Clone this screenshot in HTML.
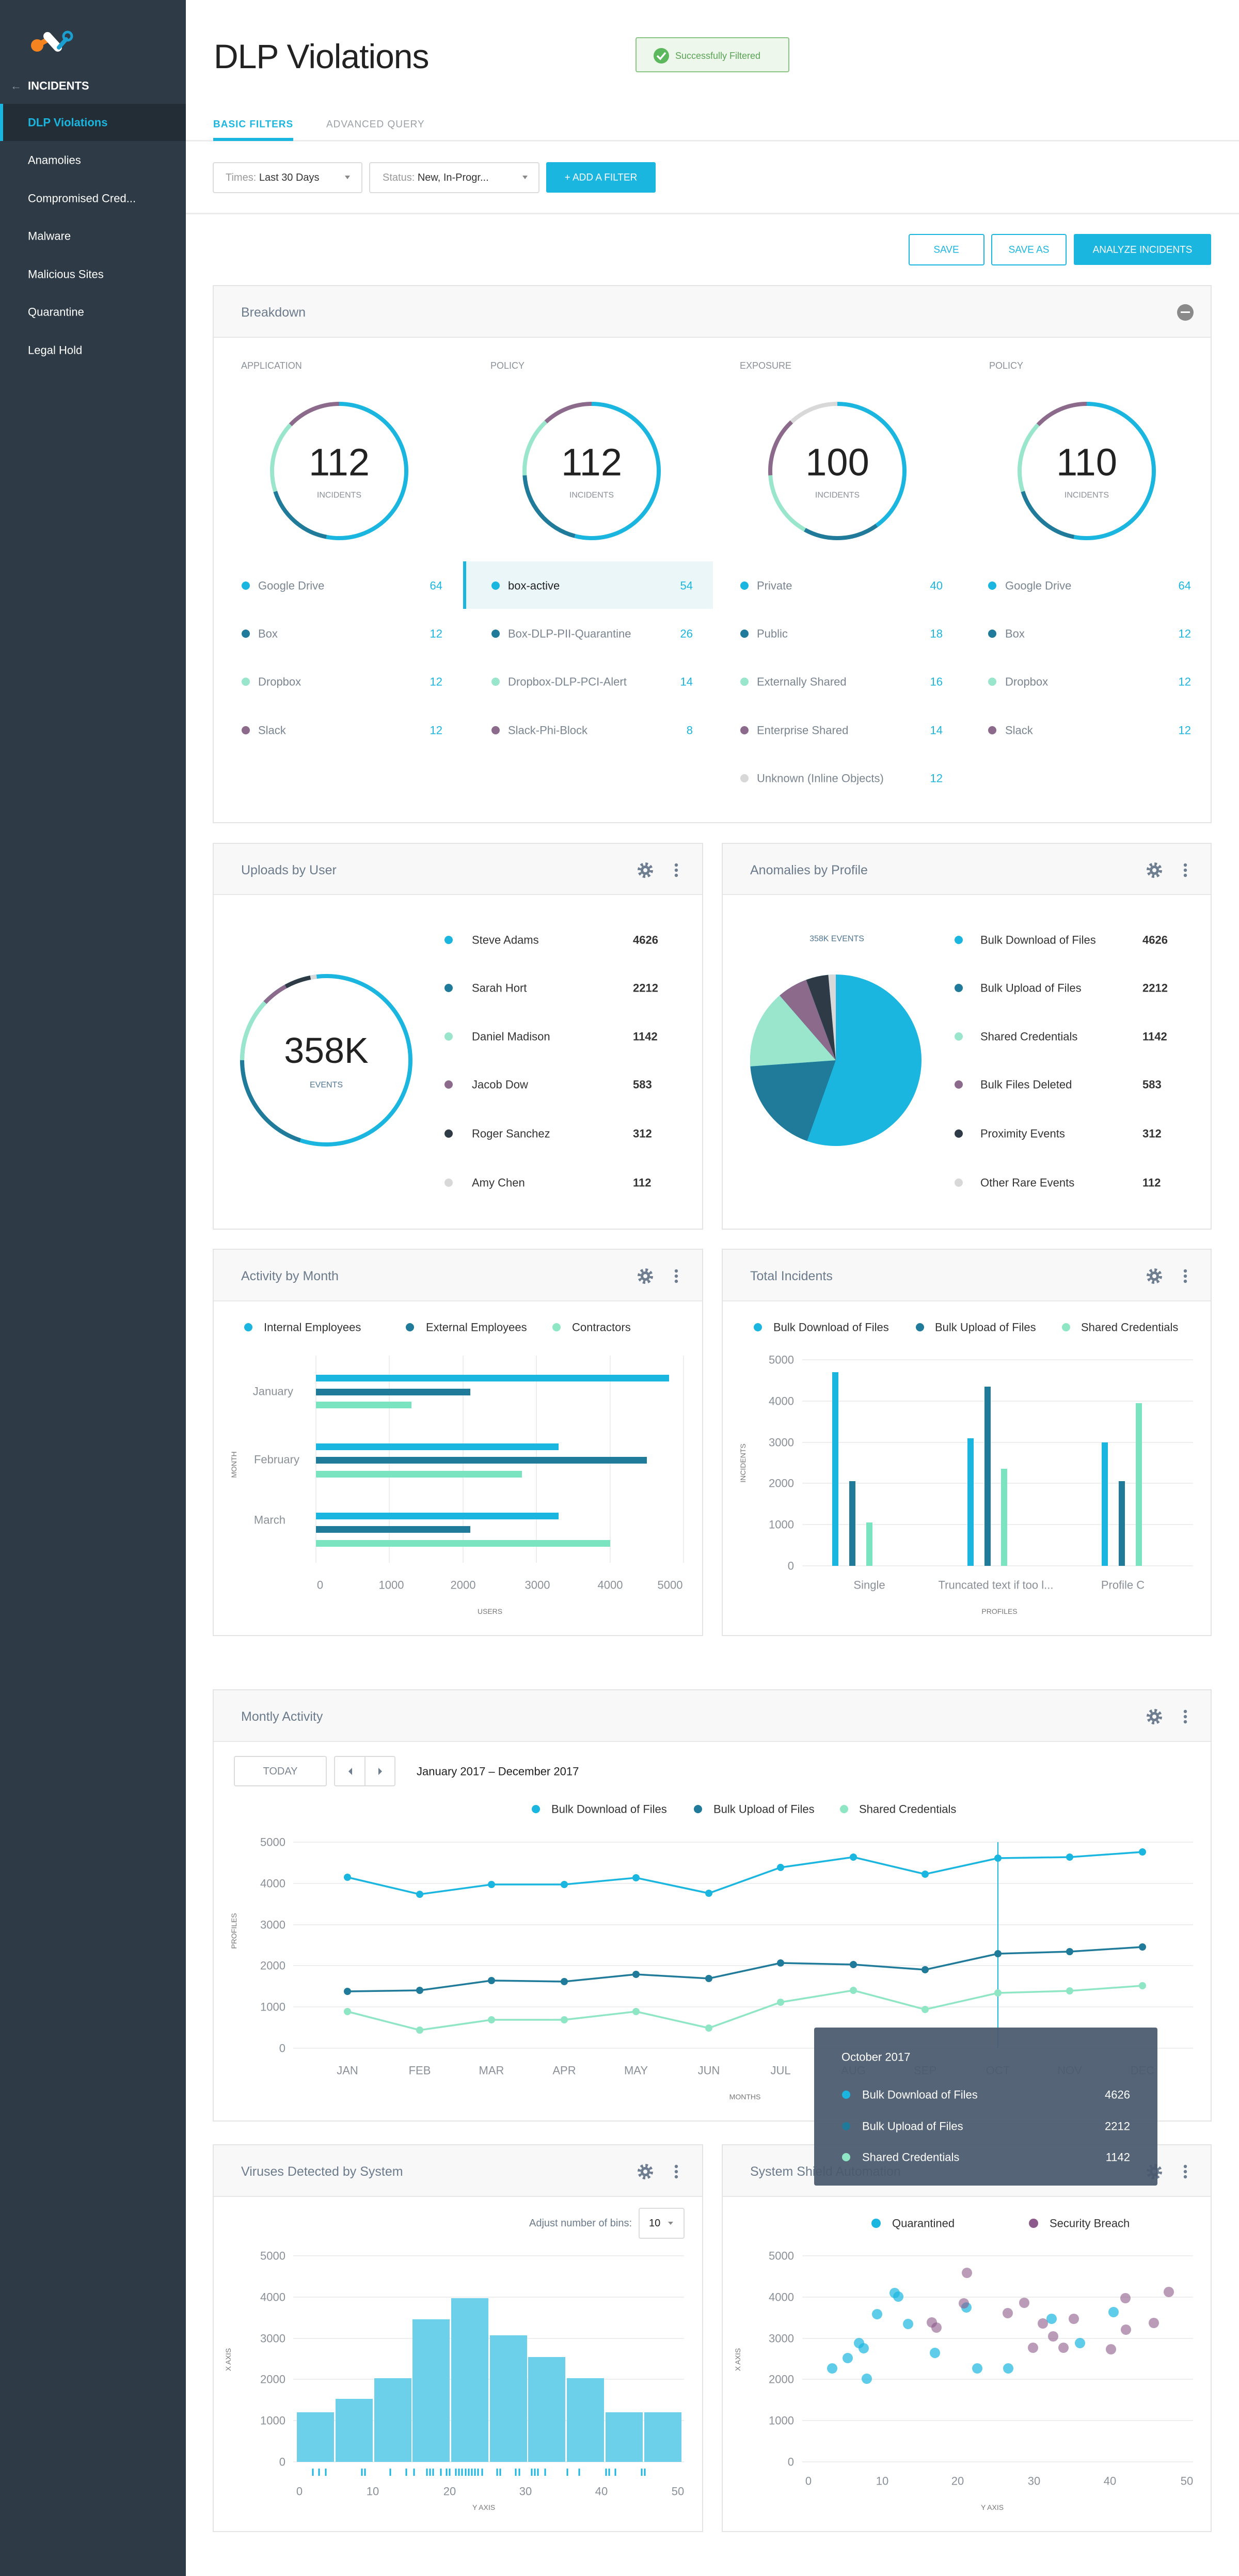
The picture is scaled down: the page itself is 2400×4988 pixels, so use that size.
<!DOCTYPE html>
<html><head><meta charset="utf-8"><style>
html,body{margin:0;padding:0;background:#fff;}
svg{display:block;font-family:"Liberation Sans",sans-serif;}
</style></head><body>
<svg width="2400" height="4988" viewBox="0 0 2400 4988" xmlns="http://www.w3.org/2000/svg">
<defs>
<g id="gear"><circle r="12" fill="none" stroke="#6e7e90" stroke-width="6" stroke-dasharray="4.7 4.7"/><circle r="9" fill="#6e7e90"/><circle r="4" fill="#f8f8f8"/></g>
<g id="kebab"><circle cy="-10" r="3.2" fill="#6e7e90"/><circle r="3.2" fill="#6e7e90"/><circle cy="10" r="3.2" fill="#6e7e90"/></g>
</defs>
<rect width="2400" height="4988" fill="#fff"/>
<!-- sidebar -->
<rect x="0" y="0" width="360" height="4988" fill="#2e3b46"/>
<g>
<circle cx="72" cy="88" r="12" fill="#f5831f"/><path d="M72 88 L90 78" stroke="#f5831f" stroke-width="10" stroke-linecap="round"/>
<path d="M92 70 L112 92" stroke="#fff" stroke-width="16" stroke-linecap="round"/>
<path d="M114 92 L128 76" stroke="#1a9fd0" stroke-width="8" stroke-linecap="round"/>
<circle cx="131" cy="70" r="8" fill="none" stroke="#1a9fd0" stroke-width="5"/>
</g>
<text x="20" y="166" fill="#8a96a0" font-size="22" dominant-baseline="central">←</text>
<text x="54" y="166" fill="#fff" font-size="22" font-weight="bold" dominant-baseline="central">INCIDENTS</text>
<rect x="0" y="201" width="360" height="72" fill="#232d36"/>
<rect x="0" y="201" width="6" height="72" fill="#1bb6e0"/>
<g font-size="22" dominant-baseline="central" fill="#fff">
<text x="54" y="237" fill="#1bb6e0" font-weight="bold">DLP Violations</text>
<text x="54" y="310">Anamolies</text>
<text x="54" y="384">Compromised Cred...</text>
<text x="54" y="457">Malware</text>
<text x="54" y="531">Malicious Sites</text>
<text x="54" y="604">Quarantine</text>
<text x="54" y="678">Legal Hold</text>
</g>
<!-- header -->
<text x="414" y="109" font-size="66" fill="#222" dominant-baseline="central" letter-spacing="-1">DLP Violations</text>
<rect x="1232" y="73" width="296" height="66" fill="#eef7ec" stroke="#8bc584" stroke-width="2" rx="3"/>
<circle cx="1281" cy="108" r="15" fill="#5cb85c"/><path d="M1273 108 l6 6 l10 -12" stroke="#fff" stroke-width="3.5" fill="none"/>
<text x="1308" y="108" font-size="18" fill="#5aa355" dominant-baseline="central">Successfully Filtered</text>
<text x="413" y="241" font-size="19" fill="#1bb6e0" font-weight="bold" dominant-baseline="central" letter-spacing="1">BASIC FILTERS</text>
<text x="632" y="241" font-size="19" fill="#9aa0a6" dominant-baseline="central" letter-spacing="1">ADVANCED QUERY</text>
<rect x="360" y="271" width="2040" height="3" fill="#ececec"/>
<rect x="413" y="267" width="155" height="6" fill="#1bb6e0"/>
<rect x="413" y="315" width="288" height="58" fill="#fff" stroke="#dcdcdc" stroke-width="2" rx="3"/>
<text x="437" y="344" font-size="20" dominant-baseline="central" fill="#999">Times: <tspan fill="#333">Last 30 Days</tspan></text>
<path d="M668 340 l10 0 l-5 7z" fill="#888"/>
<rect x="716" y="315" width="328" height="58" fill="#fff" stroke="#dcdcdc" stroke-width="2" rx="3"/>
<text x="741" y="344" font-size="20" dominant-baseline="central" fill="#999">Status: <tspan fill="#333">New, In-Progr...</tspan></text>
<path d="M1012 340 l10 0 l-5 7z" fill="#888"/>
<rect x="1058" y="314" width="212" height="59" fill="#1bb6e0" rx="3"/>
<text x="1164" y="344" font-size="19" fill="#fff" text-anchor="middle" dominant-baseline="central">+ ADD A FILTER</text>
<rect x="360" y="412" width="2040" height="3" fill="#ececec"/>
<rect x="1761" y="454" width="145" height="59" fill="#fff" stroke="#1bb6e0" stroke-width="2" rx="3"/>
<text x="1833" y="484" font-size="19" fill="#1bb6e0" text-anchor="middle" dominant-baseline="central">SAVE</text>
<rect x="1921" y="454" width="144" height="59" fill="#fff" stroke="#1bb6e0" stroke-width="2" rx="3"/>
<text x="1993" y="484" font-size="19" fill="#1bb6e0" text-anchor="middle" dominant-baseline="central">SAVE AS</text>
<rect x="2080" y="453" width="266" height="60" fill="#1bb6e0" rx="3"/>
<text x="2213" y="484" font-size="19" fill="#fff" text-anchor="middle" dominant-baseline="central">ANALYZE INCIDENTS</text>

<!-- Breakdown card -->
<rect x="413" y="553" width="1933" height="1040" fill="#fff" stroke="#e4e4e4" stroke-width="2"/>
<rect x="414" y="554" width="1931" height="99" fill="#f8f8f8"/>
<rect x="414" y="652" width="1931" height="2" fill="#e8e8e8"/>
<text x="467" y="605" font-size="25" fill="#6b7b8c" dominant-baseline="central">Breakdown</text>
<circle cx="2296" cy="605" r="16" fill="#8a8a8a"/><rect x="2287" y="603" width="18" height="3" fill="#fff"/>
<g font-size="18" fill="#8a9098" dominant-baseline="central">
<text x="467" y="708">APPLICATION</text><text x="950" y="708">POLICY</text><text x="1433" y="708">EXPOSURE</text><text x="1916" y="708">POLICY</text>
</g>
<!-- donuts r=130 C=816.8 -->
<g fill="none" stroke-width="8">
<g transform="rotate(-90 657 912)">
<circle cx="657" cy="912" r="130" stroke="#1bb6e0" stroke-dasharray="433 900"/>
<circle cx="657" cy="912" r="130" stroke="#207a99" stroke-dasharray="139 900" stroke-dashoffset="-433"/>
<circle cx="657" cy="912" r="130" stroke="#9ae6cd" stroke-dasharray="139 900" stroke-dashoffset="-572"/>
<circle cx="657" cy="912" r="130" stroke="#8c6a8b" stroke-dasharray="106 900" stroke-dashoffset="-711"/>
</g>
<g transform="rotate(-90 1146 912)">
<circle cx="1146" cy="912" r="130" stroke="#1bb6e0" stroke-dasharray="441 900"/>
<circle cx="1146" cy="912" r="130" stroke="#207a99" stroke-dasharray="163 900" stroke-dashoffset="-441"/>
<circle cx="1146" cy="912" r="130" stroke="#9ae6cd" stroke-dasharray="115 900" stroke-dashoffset="-604"/>
<circle cx="1146" cy="912" r="130" stroke="#8c6a8b" stroke-dasharray="98 900" stroke-dashoffset="-719"/>
</g>
<g transform="rotate(-90 1622 912)">
<circle cx="1622" cy="912" r="130" stroke="#1bb6e0" stroke-dasharray="327 900"/>
<circle cx="1622" cy="912" r="130" stroke="#207a99" stroke-dasharray="147 900" stroke-dashoffset="-327"/>
<circle cx="1622" cy="912" r="130" stroke="#9ae6cd" stroke-dasharray="130 900" stroke-dashoffset="-474"/>
<circle cx="1622" cy="912" r="130" stroke="#8c6a8b" stroke-dasharray="115 900" stroke-dashoffset="-604"/>
<circle cx="1622" cy="912" r="130" stroke="#d8d8d8" stroke-dasharray="98 900" stroke-dashoffset="-719"/>
</g>
<g transform="rotate(-90 2105 912)">
<circle cx="2105" cy="912" r="130" stroke="#1bb6e0" stroke-dasharray="433 900"/>
<circle cx="2105" cy="912" r="130" stroke="#207a99" stroke-dasharray="139 900" stroke-dashoffset="-433"/>
<circle cx="2105" cy="912" r="130" stroke="#9ae6cd" stroke-dasharray="139 900" stroke-dashoffset="-572"/>
<circle cx="2105" cy="912" r="130" stroke="#8c6a8b" stroke-dasharray="106 900" stroke-dashoffset="-711"/>
</g>
</g>
<g font-size="74" fill="#222" text-anchor="middle" dominant-baseline="central">
<text x="657" y="895">112</text><text x="1146" y="895">112</text><text x="1622" y="895">100</text><text x="2105" y="895">110</text>
</g>
<g font-size="16" fill="#8a9098" text-anchor="middle" dominant-baseline="central">
<text x="657" y="959">INCIDENTS</text><text x="1146" y="959">INCIDENTS</text><text x="1622" y="959">INCIDENTS</text><text x="2105" y="959">INCIDENTS</text>
</g>
<rect x="897" y="1087" width="484" height="92" fill="#ebf6f9"/>
<rect x="897" y="1087" width="6" height="92" fill="#1bb6e0"/>
<g font-size="22" fill="#7a8590" dominant-baseline="central">
<circle cx="476" cy="1134" r="8" fill="#1bb6e0"/><text x="500" y="1134">Google Drive</text>
<circle cx="476" cy="1227" r="8" fill="#207a99"/><text x="500" y="1227">Box</text>
<circle cx="476" cy="1320" r="8" fill="#9ae6cd"/><text x="500" y="1320">Dropbox</text>
<circle cx="476" cy="1414" r="8" fill="#8c6a8b"/><text x="500" y="1414">Slack</text>
<circle cx="960" cy="1134" r="8" fill="#1bb6e0"/><text x="984" y="1134" fill="#222">box-active</text>
<circle cx="960" cy="1227" r="8" fill="#207a99"/><text x="984" y="1227">Box-DLP-PII-Quarantine</text>
<circle cx="960" cy="1320" r="8" fill="#9ae6cd"/><text x="984" y="1320">Dropbox-DLP-PCI-Alert</text>
<circle cx="960" cy="1414" r="8" fill="#8c6a8b"/><text x="984" y="1414">Slack-Phi-Block</text>
<circle cx="1442" cy="1134" r="8" fill="#1bb6e0"/><text x="1466" y="1134">Private</text>
<circle cx="1442" cy="1227" r="8" fill="#207a99"/><text x="1466" y="1227">Public</text>
<circle cx="1442" cy="1320" r="8" fill="#9ae6cd"/><text x="1466" y="1320">Externally Shared</text>
<circle cx="1442" cy="1414" r="8" fill="#8c6a8b"/><text x="1466" y="1414">Enterprise Shared</text>
<circle cx="1442" cy="1507" r="8" fill="#d8d8d8"/><text x="1466" y="1507">Unknown (Inline Objects)</text>
<circle cx="1922" cy="1134" r="8" fill="#1bb6e0"/><text x="1947" y="1134">Google Drive</text>
<circle cx="1922" cy="1227" r="8" fill="#207a99"/><text x="1947" y="1227">Box</text>
<circle cx="1922" cy="1320" r="8" fill="#9ae6cd"/><text x="1947" y="1320">Dropbox</text>
<circle cx="1922" cy="1414" r="8" fill="#8c6a8b"/><text x="1947" y="1414">Slack</text>
</g>
<g font-size="22" fill="#1bb6e0" text-anchor="end" dominant-baseline="central">
<text x="857" y="1134">64</text><text x="857" y="1227">12</text><text x="857" y="1320">12</text><text x="857" y="1414">12</text>
<text x="1342" y="1134">54</text><text x="1342" y="1227">26</text><text x="1342" y="1320">14</text><text x="1342" y="1414">8</text>
<text x="1826" y="1134">40</text><text x="1826" y="1227">18</text><text x="1826" y="1320">16</text><text x="1826" y="1414">14</text><text x="1826" y="1507">12</text>
<text x="2307" y="1134">64</text><text x="2307" y="1227">12</text><text x="2307" y="1320">12</text><text x="2307" y="1414">12</text>
</g>

<!-- card frames -->
<g stroke="#e4e4e4" stroke-width="2" fill="#fff">
<rect x="413" y="1633" width="948" height="747"/>
<rect x="1399" y="1633" width="947" height="747"/>
<rect x="413" y="2419" width="948" height="748"/>
<rect x="1399" y="2419" width="947" height="748"/>
<rect x="413" y="3272" width="1933" height="835"/>
<rect x="413" y="4153" width="948" height="749"/>
<rect x="1399" y="4153" width="947" height="749"/>
</g>
<g fill="#f8f8f8">
<rect x="414" y="1634" width="946" height="98"/><rect x="1400" y="1634" width="945" height="98"/>
<rect x="414" y="2420" width="946" height="99"/><rect x="1400" y="2420" width="945" height="99"/>
<rect x="414" y="3273" width="1931" height="99"/>
<rect x="414" y="4154" width="946" height="99"/><rect x="1400" y="4154" width="945" height="99"/>
</g>
<g fill="#e8e8e8">
<rect x="414" y="1731" width="946" height="2"/><rect x="1400" y="1731" width="945" height="2"/>
<rect x="414" y="2518" width="946" height="2"/><rect x="1400" y="2518" width="945" height="2"/>
<rect x="414" y="3371" width="1931" height="2"/>
<rect x="414" y="4252" width="946" height="2"/><rect x="1400" y="4252" width="945" height="2"/>
</g>
<g font-size="25" fill="#6b7b8c" dominant-baseline="central">
<text x="467" y="1685">Uploads by User</text>
<text x="1453" y="1685">Anomalies by Profile</text>
<text x="467" y="2471">Activity by Month</text>
<text x="1453" y="2471">Total Incidents</text>
<text x="467" y="3324">Montly Activity</text>
<text x="467" y="4205">Viruses Detected by System</text>
<text x="1453" y="4205">System Shield Automation</text>
</g>
<use href="#gear" x="1250" y="1685"/><use href="#kebab" x="1310" y="1685"/>
<use href="#gear" x="2236" y="1685"/><use href="#kebab" x="2296" y="1685"/>
<use href="#gear" x="1250" y="2471"/><use href="#kebab" x="1310" y="2471"/>
<use href="#gear" x="2236" y="2471"/><use href="#kebab" x="2296" y="2471"/>
<use href="#gear" x="2236" y="3324"/><use href="#kebab" x="2296" y="3324"/>
<use href="#gear" x="1250" y="4205"/><use href="#kebab" x="1310" y="4205"/>
<use href="#gear" x="2236" y="4205"/><use href="#kebab" x="2296" y="4205"/>

<!-- Uploads donut r=163 C=1024 -->
<g fill="none" stroke-width="8" transform="rotate(-90 632 2053)">
<circle cx="632" cy="2053" r="163" stroke="#1bb6e0"/>
<circle cx="632" cy="2053" r="163" stroke="#207a99" stroke-dasharray="205 1100" stroke-dashoffset="-563"/>
<circle cx="632" cy="2053" r="163" stroke="#9ae6cd" stroke-dasharray="123 1100" stroke-dashoffset="-768"/>
<circle cx="632" cy="2053" r="163" stroke="#8c6a8b" stroke-dasharray="51 1100" stroke-dashoffset="-891"/>
<circle cx="632" cy="2053" r="163" stroke="#2e3a45" stroke-dasharray="51 1100" stroke-dashoffset="-942"/>
<circle cx="632" cy="2053" r="163" stroke="#d8d8d8" stroke-dasharray="12 1100" stroke-dashoffset="-993"/>
</g>
<text x="632" y="2034" font-size="70" fill="#222" text-anchor="middle" dominant-baseline="central">358K</text>
<text x="632" y="2101" font-size="16" fill="#4f7592" text-anchor="middle" dominant-baseline="central">EVENTS</text>
<g font-size="22" fill="#333" dominant-baseline="central">
<circle cx="869" cy="1820" r="8" fill="#1bb6e0"/><text x="914" y="1820">Steve Adams</text>
<circle cx="869" cy="1913" r="8" fill="#207a99"/><text x="914" y="1913">Sarah Hort</text>
<circle cx="869" cy="2007" r="8" fill="#9ae6cd"/><text x="914" y="2007">Daniel Madison</text>
<circle cx="869" cy="2100" r="8" fill="#8c6a8b"/><text x="914" y="2100">Jacob Dow</text>
<circle cx="869" cy="2195" r="8" fill="#2e3a45"/><text x="914" y="2195">Roger Sanchez</text>
<circle cx="869" cy="2290" r="8" fill="#d8d8d8"/><text x="914" y="2290">Amy Chen</text>
<g font-weight="bold"><text x="1226" y="1820">4626</text><text x="1226" y="1913">2212</text><text x="1226" y="2007">1142</text><text x="1226" y="2100">583</text><text x="1226" y="2195">312</text><text x="1226" y="2290">112</text></g>
</g>
<!-- Pie -->
<g fill="none" stroke-width="166" transform="rotate(-90 1619 2053)">
<circle cx="1619" cy="2053" r="83" stroke="#1bb6e0"/>
<circle cx="1619" cy="2053" r="83" stroke="#207a99" stroke-dasharray="96 600" stroke-dashoffset="-289"/>
<circle cx="1619" cy="2053" r="83" stroke="#9ae6cd" stroke-dasharray="77 600" stroke-dashoffset="-385"/>
<circle cx="1619" cy="2053" r="83" stroke="#8c6a8b" stroke-dasharray="30 600" stroke-dashoffset="-462"/>
<circle cx="1619" cy="2053" r="83" stroke="#2e3a45" stroke-dasharray="22 600" stroke-dashoffset="-492"/>
<circle cx="1619" cy="2053" r="83" stroke="#d8d8d8" stroke-dasharray="8 600" stroke-dashoffset="-514"/>
</g>
<text x="1621" y="1818" font-size="16" fill="#4f7592" text-anchor="middle" dominant-baseline="central">358K EVENTS</text>
<g font-size="22" fill="#333" dominant-baseline="central">
<circle cx="1857" cy="1820" r="8" fill="#1bb6e0"/><text x="1899" y="1820">Bulk Download of Files</text>
<circle cx="1857" cy="1913" r="8" fill="#207a99"/><text x="1899" y="1913">Bulk Upload of Files</text>
<circle cx="1857" cy="2007" r="8" fill="#9ae6cd"/><text x="1899" y="2007">Shared Credentials</text>
<circle cx="1857" cy="2100" r="8" fill="#8c6a8b"/><text x="1899" y="2100">Bulk Files Deleted</text>
<circle cx="1857" cy="2195" r="8" fill="#2e3a45"/><text x="1899" y="2195">Proximity Events</text>
<circle cx="1857" cy="2290" r="8" fill="#d8d8d8"/><text x="1899" y="2290">Other Rare Events</text>
<g font-weight="bold"><text x="2213" y="1820">4626</text><text x="2213" y="1913">2212</text><text x="2213" y="2007">1142</text><text x="2213" y="2100">583</text><text x="2213" y="2195">312</text><text x="2213" y="2290">112</text></g>
</g>

<!-- Activity by Month -->
<g font-size="22" fill="#333" dominant-baseline="central">
<circle cx="481" cy="2570" r="8" fill="#1bb6e0"/><text x="511" y="2570">Internal Employees</text>
<circle cx="794" cy="2570" r="8" fill="#207a99"/><text x="825" y="2570">External Employees</text>
<circle cx="1078" cy="2570" r="8" fill="#8fe6c4"/><text x="1108" y="2570">Contractors</text>
</g>
<g stroke="#eeeeee" stroke-width="2">
<line x1="612" y1="2625" x2="612" y2="3026"/><line x1="754" y1="2625" x2="754" y2="3026"/><line x1="897" y1="2625" x2="897" y2="3026"/>
<line x1="1039" y1="2625" x2="1039" y2="3026"/><line x1="1182" y1="2625" x2="1182" y2="3026"/><line x1="1324" y1="2625" x2="1324" y2="3026"/>
</g>
<g>
<rect x="612" y="2662" width="684" height="13" fill="#1bb6e0"/><rect x="612" y="2689" width="299" height="13" fill="#207a99"/><rect x="612" y="2714" width="185" height="13" fill="#7ae3bf"/>
<rect x="612" y="2795" width="470" height="13" fill="#1bb6e0"/><rect x="612" y="2821" width="641" height="13" fill="#207a99"/><rect x="612" y="2848" width="399" height="13" fill="#7ae3bf"/>
<rect x="612" y="2929" width="470" height="13" fill="#1bb6e0"/><rect x="612" y="2955" width="299" height="13" fill="#207a99"/><rect x="612" y="2982" width="570" height="13" fill="#7ae3bf"/>
</g>
<g font-size="22" fill="#8a9098" text-anchor="end" dominant-baseline="central">
<text x="568" y="2694">January</text><text x="580" y="2826">February</text><text x="553" y="2943">March</text>
</g>
<g font-size="22" fill="#8a9098" text-anchor="middle" dominant-baseline="central">
<text x="620" y="3069">0</text><text x="758" y="3069">1000</text><text x="897" y="3069">2000</text><text x="1041" y="3069">3000</text><text x="1182" y="3069">4000</text><text x="1298" y="3069">5000</text>
</g>
<text x="949" y="3120" font-size="14" fill="#777" text-anchor="middle" dominant-baseline="central">USERS</text>
<text transform="translate(453 2836) rotate(-90)" font-size="14" fill="#777" text-anchor="middle" dominant-baseline="central">MONTH</text>

<!-- Total Incidents -->
<g font-size="22" fill="#333" dominant-baseline="central">
<circle cx="1468" cy="2570" r="8" fill="#1bb6e0"/><text x="1498" y="2570">Bulk Download of Files</text>
<circle cx="1782" cy="2570" r="8" fill="#207a99"/><text x="1811" y="2570">Bulk Upload of Files</text>
<circle cx="2065" cy="2570" r="8" fill="#8fe6c4"/><text x="2094" y="2570">Shared Credentials</text>
</g>
<g stroke="#eeeeee" stroke-width="2">
<line x1="1554" y1="2633" x2="2311" y2="2633"/><line x1="1554" y1="2713" x2="2311" y2="2713"/><line x1="1554" y1="2793" x2="2311" y2="2793"/>
<line x1="1554" y1="2872" x2="2311" y2="2872"/><line x1="1554" y1="2952" x2="2311" y2="2952"/><line x1="1554" y1="3032" x2="2311" y2="3032"/>
</g>
<g font-size="22" fill="#8a9098" text-anchor="end" dominant-baseline="central">
<text x="1538" y="2633">5000</text><text x="1538" y="2713">4000</text><text x="1538" y="2793">3000</text><text x="1538" y="2872">2000</text><text x="1538" y="2952">1000</text><text x="1538" y="3032">0</text>
</g>
<g>
<rect x="1612" y="2657" width="12" height="375" fill="#1bb6e0"/><rect x="1645" y="2868" width="12" height="164" fill="#207a99"/><rect x="1678" y="2948" width="12" height="84" fill="#7ae3bf"/>
<rect x="1874" y="2785" width="12" height="247" fill="#1bb6e0"/><rect x="1907" y="2685" width="12" height="347" fill="#207a99"/><rect x="1939" y="2844" width="12" height="188" fill="#7ae3bf"/>
<rect x="2134" y="2793" width="12" height="239" fill="#1bb6e0"/><rect x="2167" y="2868" width="12" height="164" fill="#207a99"/><rect x="2200" y="2717" width="12" height="315" fill="#7ae3bf"/>
</g>
<g font-size="22" fill="#8a9098" text-anchor="middle" dominant-baseline="central">
<text x="1684" y="3069">Single</text><text x="1929" y="3069">Truncated text if too l...</text><text x="2175" y="3069">Profile C</text>
</g>
<text x="1936" y="3120" font-size="14" fill="#777" text-anchor="middle" dominant-baseline="central">PROFILES</text>
<text transform="translate(1439 2833) rotate(-90)" font-size="14" fill="#777" text-anchor="middle" dominant-baseline="central">INCIDENTS</text>

<!-- Monthly Activity -->
<rect x="454" y="3401" width="178" height="57" fill="#fff" stroke="#dcdcdc" stroke-width="2" rx="3"/>
<text x="543" y="3430" font-size="20" fill="#7a8590" text-anchor="middle" dominant-baseline="central">TODAY</text>
<rect x="648" y="3401" width="117" height="57" fill="#fff" stroke="#dcdcdc" stroke-width="2" rx="3"/>
<line x1="707" y1="3401" x2="707" y2="3458" stroke="#dcdcdc" stroke-width="2"/>
<path d="M682 3423 l0 14 l-7 -7z" fill="#6e7e90"/><path d="M733 3423 l0 14 l7 -7z" fill="#6e7e90"/>
<text x="807" y="3430" font-size="22" fill="#222" dominant-baseline="central">January 2017 – December 2017</text>
<g font-size="22" fill="#333" dominant-baseline="central">
<circle cx="1038" cy="3503" r="8" fill="#1bb6e0"/><text x="1068" y="3503">Bulk Download of Files</text>
<circle cx="1352" cy="3503" r="8" fill="#207a99"/><text x="1382" y="3503">Bulk Upload of Files</text>
<circle cx="1635" cy="3503" r="8" fill="#8fe6c4"/><text x="1664" y="3503">Shared Credentials</text>
</g>
<g stroke="#eeeeee" stroke-width="2">
<line x1="568" y1="3567" x2="2311" y2="3567"/><line x1="568" y1="3647" x2="2311" y2="3647"/><line x1="568" y1="3727" x2="2311" y2="3727"/>
<line x1="568" y1="3806" x2="2311" y2="3806"/><line x1="568" y1="3886" x2="2311" y2="3886"/><line x1="568" y1="3966" x2="2311" y2="3966"/>
</g>
<g font-size="22" fill="#8a9098" text-anchor="end" dominant-baseline="central">
<text x="553" y="3567">5000</text><text x="553" y="3647">4000</text><text x="553" y="3727">3000</text><text x="553" y="3806">2000</text><text x="553" y="3886">1000</text><text x="553" y="3966">0</text>
</g>
<g font-size="22" fill="#8a9098" text-anchor="middle" dominant-baseline="central">
<text x="673" y="4009">JAN</text><text x="813" y="4009">FEB</text><text x="952" y="4009">MAR</text><text x="1093" y="4009">APR</text><text x="1232" y="4009">MAY</text><text x="1373" y="4009">JUN</text><text x="1512" y="4009">JUL</text><text x="1653" y="4009">AUG</text><text x="1792" y="4009">SEP</text><text x="1933" y="4009">OCT</text><text x="2072" y="4009">NOV</text><text x="2213" y="4009">DEC</text>
</g>
<text x="1443" y="4060" font-size="14" fill="#777" text-anchor="middle" dominant-baseline="central">MONTHS</text>
<text transform="translate(453 3739) rotate(-90)" font-size="14" fill="#777" text-anchor="middle" dominant-baseline="central">PROFILES</text>
<line x1="1933" y1="3567" x2="1933" y2="3966" stroke="#1bb6e0" stroke-width="2"/>
<g fill="none" stroke-width="3.5">
<polyline stroke="#1bb6e0" points="673,3635 813,3668 952,3649 1093,3649 1232,3636 1373,3666 1512,3616 1653,3596 1792,3629 1933,3598 2072,3596 2213,3586"/>
<polyline stroke="#207a99" points="673,3856 813,3854 952,3835 1093,3837 1232,3823 1373,3831 1512,3801 1653,3804 1792,3814 1933,3783 2072,3779 2213,3770"/>
<polyline stroke="#8fe6c4" points="673,3895 813,3931 952,3911 1093,3911 1232,3895 1373,3927 1512,3877 1653,3854 1792,3891 1933,3859 2072,3855 2213,3845"/>
</g>
<g fill="#1bb6e0"><circle cx="673" cy="3635" r="7"/><circle cx="813" cy="3668" r="7"/><circle cx="952" cy="3649" r="7"/><circle cx="1093" cy="3649" r="7"/><circle cx="1232" cy="3636" r="7"/><circle cx="1373" cy="3666" r="7"/><circle cx="1512" cy="3616" r="7"/><circle cx="1653" cy="3596" r="7"/><circle cx="1792" cy="3629" r="7"/><circle cx="1933" cy="3598" r="7"/><circle cx="2072" cy="3596" r="7"/><circle cx="2213" cy="3586" r="7"/></g>
<g fill="#207a99"><circle cx="673" cy="3856" r="7"/><circle cx="813" cy="3854" r="7"/><circle cx="952" cy="3835" r="7"/><circle cx="1093" cy="3837" r="7"/><circle cx="1232" cy="3823" r="7"/><circle cx="1373" cy="3831" r="7"/><circle cx="1512" cy="3801" r="7"/><circle cx="1653" cy="3804" r="7"/><circle cx="1792" cy="3814" r="7"/><circle cx="1933" cy="3783" r="7"/><circle cx="2072" cy="3779" r="7"/><circle cx="2213" cy="3770" r="7"/></g>
<g fill="#8fe6c4"><circle cx="673" cy="3895" r="7"/><circle cx="813" cy="3931" r="7"/><circle cx="952" cy="3911" r="7"/><circle cx="1093" cy="3911" r="7"/><circle cx="1232" cy="3895" r="7"/><circle cx="1373" cy="3927" r="7"/><circle cx="1512" cy="3877" r="7"/><circle cx="1653" cy="3854" r="7"/><circle cx="1792" cy="3891" r="7"/><circle cx="1933" cy="3859" r="7"/><circle cx="2072" cy="3855" r="7"/><circle cx="2213" cy="3845" r="7"/></g>

<!-- Viruses histogram -->
<text x="1224" y="4305" font-size="20" fill="#6b7b8c" text-anchor="end" dominant-baseline="central">Adjust number of bins:</text>
<rect x="1238" y="4276" width="87" height="58" fill="#fff" stroke="#dcdcdc" stroke-width="2" rx="3"/>
<text x="1257" y="4305" font-size="20" fill="#222" dominant-baseline="central">10</text>
<path d="M1294 4302 l10 0 l-5 6z" fill="#888"/>
<g stroke="#eeeeee" stroke-width="2">
<line x1="568" y1="4368" x2="1325" y2="4368"/><line x1="568" y1="4448" x2="1325" y2="4448"/><line x1="568" y1="4528" x2="1325" y2="4528"/>
<line x1="568" y1="4607" x2="1325" y2="4607"/><line x1="568" y1="4687" x2="1325" y2="4687"/><line x1="568" y1="4767" x2="1325" y2="4767"/>
</g>
<g font-size="22" fill="#8a9098" text-anchor="end" dominant-baseline="central">
<text x="553" y="4368">5000</text><text x="553" y="4448">4000</text><text x="553" y="4528">3000</text><text x="553" y="4607">2000</text><text x="553" y="4687">1000</text><text x="553" y="4767">0</text>
</g>
<g fill="#6dd0ea">
<rect x="575" y="4671" width="72" height="96"/><rect x="650" y="4645" width="72" height="122"/><rect x="725" y="4605" width="72" height="162"/>
<rect x="799" y="4491" width="72" height="276"/><rect x="874" y="4450" width="72" height="317"/><rect x="949" y="4522" width="72" height="245"/>
<rect x="1023" y="4564" width="72" height="203"/><rect x="1098" y="4605" width="72" height="162"/><rect x="1173" y="4671" width="72" height="96"/><rect x="1248" y="4671" width="72" height="96"/>
</g>
<g stroke="#1bb6e0" stroke-width="3">
<path d="M606 4780v14M618 4780v14M631 4780v14M701 4780v14M707 4780v14M756 4780v14M787 4780v14M802 4780v14M827 4780v14M833 4780v14M839 4780v14M854 4780v14M865 4780v14M871 4780v14M883 4780v14M889 4780v14M895 4780v14M902 4780v14M908 4780v14M914 4780v14M920 4780v14M926 4780v14M934 4780v14M963 4780v14M969 4780v14M999 4780v14M1006 4780v14M1030 4780v14M1036 4780v14M1042 4780v14M1056 4780v14M1099 4780v14M1122 4780v14M1174 4780v14M1180 4780v14M1192 4780v14M1243 4780v14M1249 4780v14"/>
</g>
<g font-size="22" fill="#8a9098" text-anchor="middle" dominant-baseline="central">
<text x="580" y="4824">0</text><text x="722" y="4824">10</text><text x="871" y="4824">20</text><text x="1018" y="4824">30</text><text x="1165" y="4824">40</text><text x="1313" y="4824">50</text>
</g>
<text x="937" y="4855" font-size="14" fill="#777" text-anchor="middle" dominant-baseline="central">Y AXIS</text>
<text transform="translate(442 4569) rotate(-90)" font-size="14" fill="#777" text-anchor="middle" dominant-baseline="central">X AXIS</text>

<!-- Scatter -->
<g font-size="22" fill="#333" dominant-baseline="central">
<circle cx="1697" cy="4305" r="9" fill="#1bb6e0"/><text x="1728" y="4305">Quarantined</text>
<circle cx="2002" cy="4305" r="9" fill="#8c5a8b"/><text x="2033" y="4305">Security Breach</text>
</g>
<g stroke="#eeeeee" stroke-width="2">
<line x1="1554" y1="4368" x2="2311" y2="4368"/><line x1="1554" y1="4448" x2="2311" y2="4448"/><line x1="1554" y1="4528" x2="2311" y2="4528"/>
<line x1="1554" y1="4607" x2="2311" y2="4607"/><line x1="1554" y1="4687" x2="2311" y2="4687"/><line x1="1554" y1="4767" x2="2311" y2="4767"/>
</g>
<g font-size="22" fill="#8a9098" text-anchor="end" dominant-baseline="central">
<text x="1538" y="4368">5000</text><text x="1538" y="4448">4000</text><text x="1538" y="4528">3000</text><text x="1538" y="4607">2000</text><text x="1538" y="4687">1000</text><text x="1538" y="4767">0</text>
</g>
<g font-size="22" fill="#8a9098" text-anchor="middle" dominant-baseline="central">
<text x="1566" y="4804">0</text><text x="1709" y="4804">10</text><text x="1855" y="4804">20</text><text x="2003" y="4804">30</text><text x="2150" y="4804">40</text><text x="2299" y="4804">50</text>
</g>
<text x="1922" y="4855" font-size="14" fill="#777" text-anchor="middle" dominant-baseline="central">Y AXIS</text>
<text transform="translate(1429 4569) rotate(-90)" font-size="14" fill="#777" text-anchor="middle" dominant-baseline="central">X AXIS</text>
<g fill="#1bb6e0" fill-opacity="0.7">
<circle cx="1612" cy="4586" r="10"/><circle cx="1642" cy="4566" r="10"/><circle cx="1664" cy="4537" r="10"/><circle cx="1673" cy="4547" r="10"/><circle cx="1679" cy="4606" r="10"/><circle cx="1699" cy="4481" r="10"/><circle cx="1733" cy="4440" r="10"/><circle cx="1740" cy="4447" r="10"/><circle cx="1759" cy="4500" r="10"/><circle cx="1811" cy="4556" r="10"/><circle cx="1872" cy="4468" r="10"/><circle cx="1893" cy="4586" r="10"/><circle cx="1953" cy="4586" r="10"/><circle cx="2037" cy="4490" r="10"/><circle cx="2092" cy="4537" r="10"/><circle cx="2157" cy="4477" r="10"/>
</g>
<g fill="#8c5a8b" fill-opacity="0.6">
<circle cx="1873" cy="4401" r="10"/><circle cx="1867" cy="4460" r="10"/><circle cx="1805" cy="4497" r="10"/><circle cx="1814" cy="4507" r="10"/><circle cx="1952" cy="4479" r="10"/><circle cx="1984" cy="4459" r="10"/><circle cx="2001" cy="4546" r="10"/><circle cx="2020" cy="4499" r="10"/><circle cx="2040" cy="4524" r="10"/><circle cx="2060" cy="4546" r="10"/><circle cx="2080" cy="4490" r="10"/><circle cx="2152" cy="4549" r="10"/><circle cx="2180" cy="4450" r="10"/><circle cx="2181" cy="4511" r="10"/><circle cx="2235" cy="4498" r="10"/><circle cx="2264" cy="4438" r="10"/>
</g>

<!-- Tooltip -->
<rect x="1577" y="3926" width="665" height="306" rx="4" fill="#4a5a6d" fill-opacity="0.94"/>
<text x="1630" y="3983" font-size="22" fill="#fff" dominant-baseline="central">October 2017</text>
<g font-size="22" fill="#fff" dominant-baseline="central">
<circle cx="1639" cy="4056" r="8" fill="#1bb6e0"/><text x="1670" y="4056">Bulk Download of Files</text><text x="2189" y="4056" text-anchor="end">4626</text>
<circle cx="1639" cy="4117" r="8" fill="#207a99"/><text x="1670" y="4117">Bulk Upload of Files</text><text x="2189" y="4117" text-anchor="end">2212</text>
<circle cx="1639" cy="4177" r="8" fill="#8fe6c4"/><text x="1670" y="4177">Shared Credentials</text><text x="2189" y="4177" text-anchor="end">1142</text>
</g>
</svg>
</body></html>
